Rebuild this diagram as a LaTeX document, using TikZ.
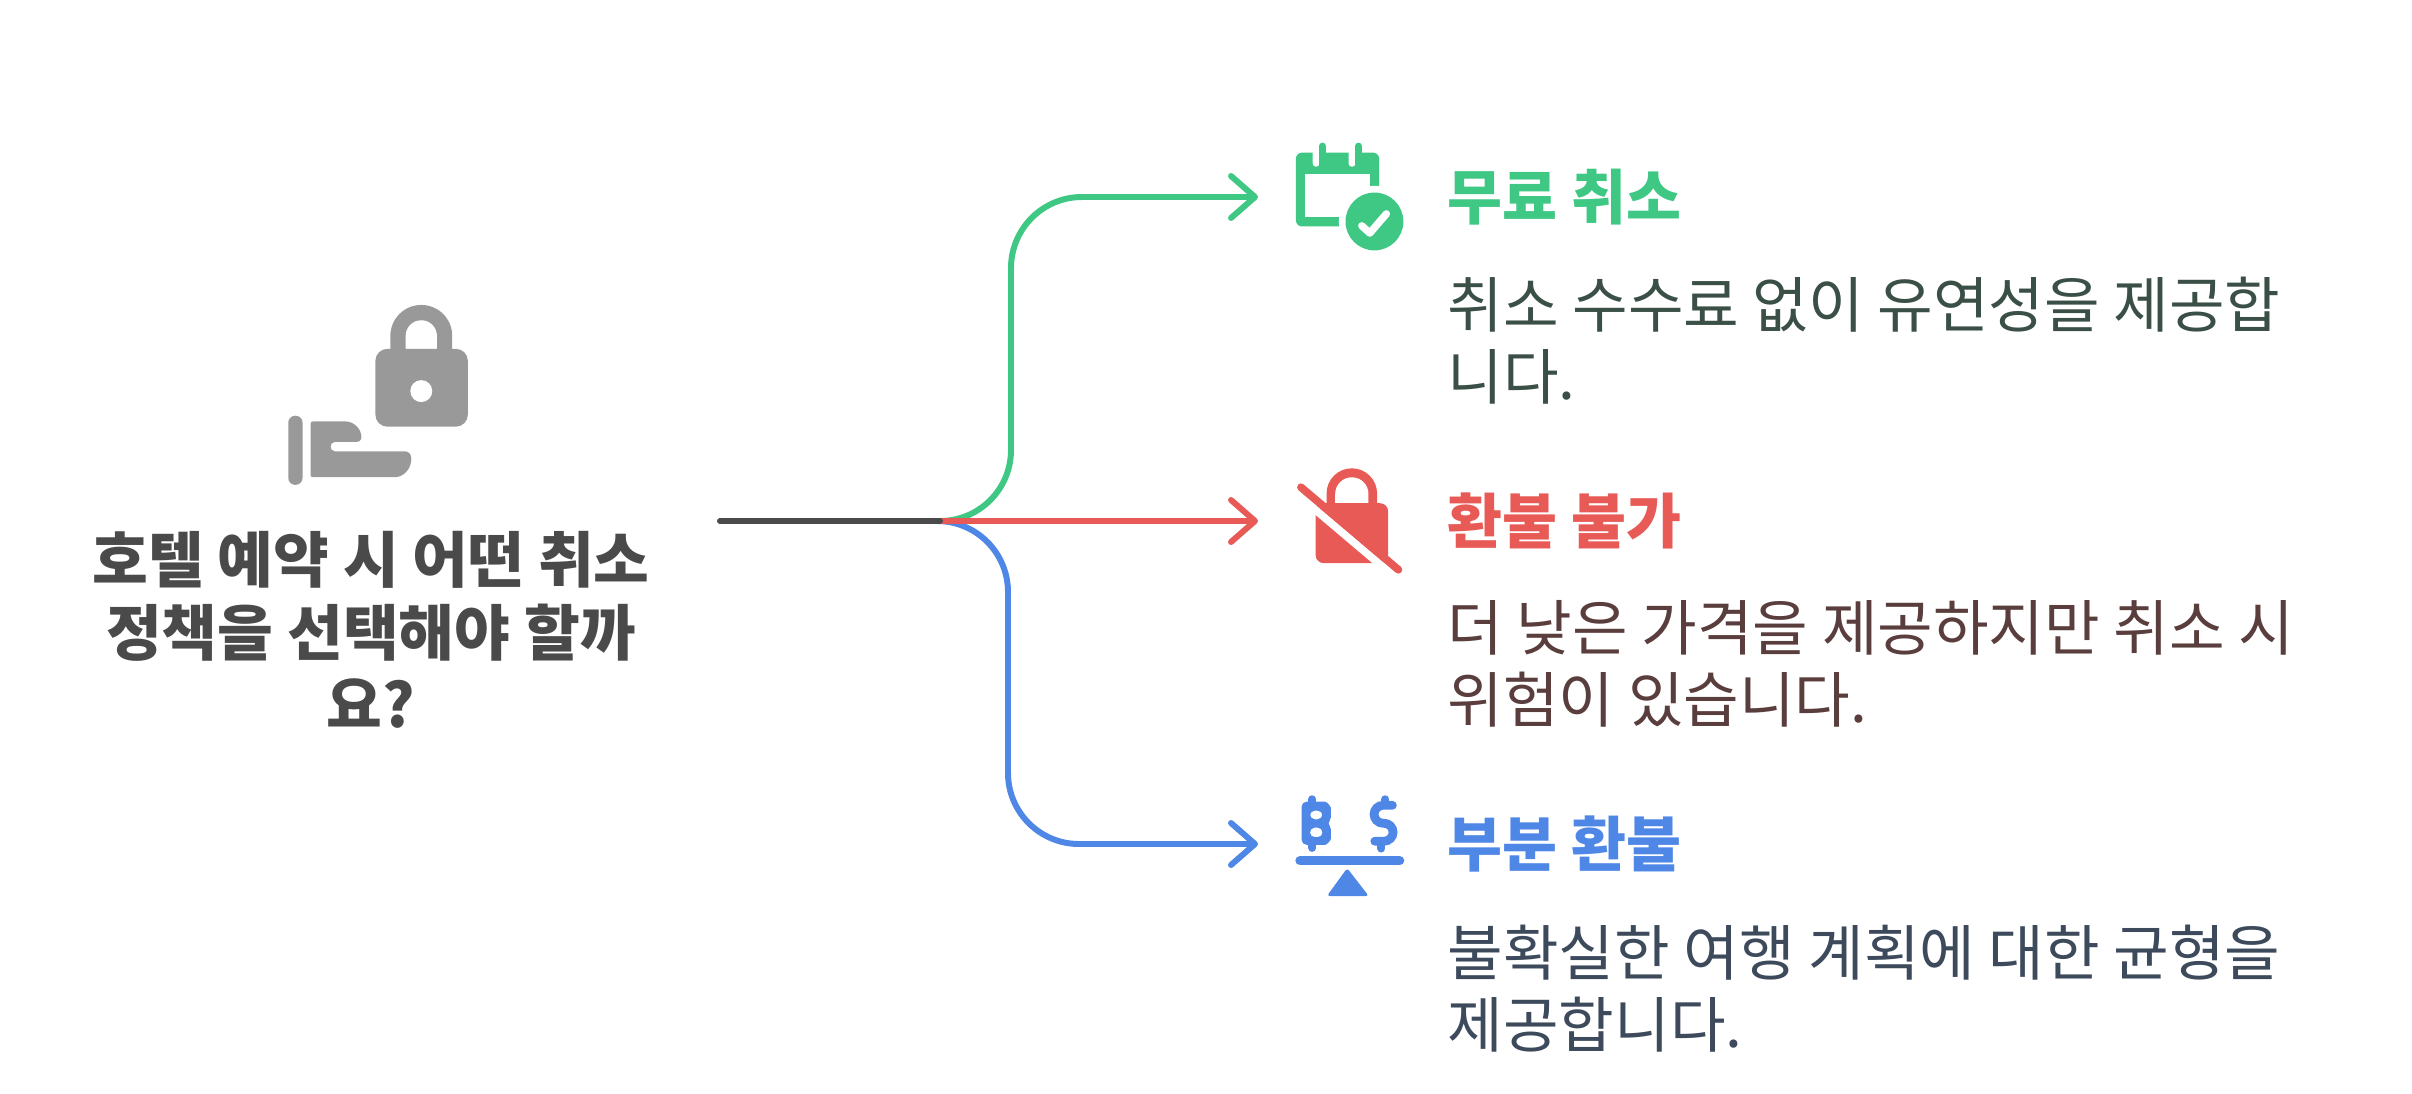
\documentclass[tikz,border=0pt]{standalone}
\usepackage{fontspec}
\setmainfont{Noto Sans CJK KR}
\usetikzlibrary{arrows.meta,positioning}
\definecolor{greyink}{HTML}{4A4A4A}
\definecolor{greyicon}{HTML}{999999}
\definecolor{greenline}{HTML}{3FC784}
\definecolor{redline}{HTML}{E85A55}
\definecolor{blueline}{HTML}{4F87E6}
\definecolor{greenink}{HTML}{3A4F45}
\definecolor{redink}{HTML}{5A3D3D}
\definecolor{blueink}{HTML}{3D4A5C}
\tikzset{
  branch/.style={line width=1.7pt,rounded corners=0.71cm,-{Straight Barb[length=0.24cm,width=0.42cm,round]},line cap=round},
  headtxt/.style={anchor=west,font=\fontsize{17}{22}\selectfont\bfseries,inner sep=0pt},
  bodytxt/.style={anchor=north west,align=left,font=\fontsize{17.2}{20.5}\selectfont,inner sep=0pt},
  icon/.style={x=0.003333cm,y=-0.003333cm}
}
\begin{document}
\begin{tikzpicture}[>=Latex]
\useasboundingbox (0,0) rectangle (24.12,-10.94);
% connectors
\coordinate (start) at (7.20,-5.21);
\coordinate (hub) at (9.40,-5.21);
\coordinate (bendfree) at (10.11,-1.97);
\coordinate (bendpart) at (10.08,-8.44);
\coordinate (tipfree) at (12.58,-1.97);
\coordinate (tipnone) at (12.58,-5.21);
\coordinate (tippart) at (12.58,-8.44);
\draw[branch,greenline] (hub) -| (bendfree) -- (tipfree);
\draw[branch,blueline] (hub) -| (bendpart) -- (tippart);
\draw[branch,redline] (hub) -- (tipnone);
\draw[greyink,line width=1.7pt,line cap=round] (start) -- (hub);
% question
\node[font=\fontsize{17.25}{20.7}\selectfont\bfseries,text=greyink,align=center,inner sep=0pt] (question) at (3.71,-6.30) {호텔 예약 시 어떤 취소\\정책을 선택해야 할까\\요?};
% options
\node[headtxt,text=greenline] (freehead) at (14.47,-1.97) {무료 취소};
\node[bodytxt,text=greenink] (freebody) at (14.47,-2.76) {취소 수수료 없이 유연성을 제공합\\니다.};
\node[headtxt,text=redline] (nonehead) at (14.47,-5.21) {환불 불가};
\node[bodytxt,text=redink] (nonebody) at (14.47,-6.00) {더 낮은 가격을 제공하지만 취소 시\\위험이 있습니다.};
\node[headtxt,text=blueline] (parthead) at (14.47,-8.44) {부분 환불};
\node[bodytxt,text=blueink] (partbody) at (14.47,-9.24) {불확실한 여행 계획에 대한 균형을\\제공합니다.};
% lock in hand
\begin{scope}[shift={(2.5,-2.8)},icon]
\fill[greyicon] (422,210) -- (422,168) arc[start angle=180,end angle=360,radius=93] -- (608,210) -- cycle;
\fill[white] (468,208) -- (468,168) arc[start angle=180,end angle=360,radius=47] -- (562,208) -- cycle;
\fill[greyicon,rounded corners=0.12cm] (377,207) rectangle (655,441);
\fill[white] (515,334) circle[radius=33];
\fill[greyicon,rounded corners=0.07cm] (115,408) rectangle (158,616);
\fill[greyicon] (190,425) -- (285,425) .. controls (315,425) and (335,450) .. (335,472) .. controls (335,482) and (328,487) .. (318,487) -- (255,487) .. controls (238,487) and (238,515) .. (255,515) -- (465,515) .. controls (478,515) and (485,525) .. (485,537) .. controls (485,570) and (460,593) .. (435,593) -- (190,593) .. controls (184,593) and (182,590) .. (182,585) -- (182,433) .. controls (182,428) and (184,425) .. (190,425) -- cycle;
\end{scope}
% calendar
\begin{scope}[shift={(12.7,-1.3)},icon]
\fill[greenline,rounded corners=0.06cm] (78,68) rectangle (328,290);
\fill[white] (105,133) rectangle (302,262);
\foreach \x in {128,236}{
\fill[white] (\x,60) -- (\x+21,60) -- (\x+21,100) arc[start angle=0,end angle=180,radius=10.5] -- cycle;
}
\foreach \x in {158,266}{
\draw[greenline,line width=1.9pt,line cap=round] (\x,48) -- (\x,103);
}
\fill[white] (314,275) circle[radius=107];
\fill[greenline] (314,275) circle[radius=87];
\draw[white,line width=2.1pt,line cap=round,line join=round] (276,288) -- (300,310) -- (350,252);
\end{scope}
% crossed lock
\begin{scope}[shift={(12.7,-4.5)},icon]
\fill[redline] (170,165) -- (170,131) arc[start angle=180,end angle=360,radius=76] -- (322,165) -- cycle;
\fill[white] (196,165) -- (196,132) arc[start angle=180,end angle=360,radius=50] -- (296,165) -- cycle;
\fill[redline,rounded corners=0.08cm] (137,160) rectangle (355,340);
\draw[white,line width=2.2pt] (93,143) -- (386,391);
\draw[redline,line width=2.2pt,line cap=round] (93,112) -- (386,360);
\end{scope}
% scale with coins
\begin{scope}[shift={(12.7,-7.8)},icon]
\fill[blueline,rounded corners=0.05cm,even odd rule] (95,65) -- (150,65) .. controls (172,65) and (183,82) .. (183,98) .. controls (183,112) and (178,122) .. (170,130) .. controls (178,138) and (183,148) .. (183,162) .. controls (183,180) and (172,195) .. (150,195) -- (95,195) -- cycle (120,92) rectangle (158,118) (120,143) rectangle (158,172);
\draw[blueline,line width=2.3pt,line cap=round] (127,58) -- (127,70);
\draw[blueline,line width=2.3pt,line cap=round] (127,190) -- (127,204);
\draw[blueline,line width=2.5pt,line cap=round] (368,76) -- (340,76) arc[start angle=270,end angle=90,radius=27] -- (343,130) arc[start angle=270,end angle=450,radius=27] -- (315,184);
\draw[blueline,line width=2.3pt,line cap=round] (347,58) -- (347,72);
\draw[blueline,line width=2.3pt,line cap=round] (335,190) -- (335,206);
\draw[blueline,line width=2.6pt,line cap=round] (90,243) -- (390,243);
\fill[blueline,rounded corners=0.03cm] (232,265) -- (297,349) -- (171,349) -- cycle;
\end{scope}
\end{tikzpicture}
\end{document}
